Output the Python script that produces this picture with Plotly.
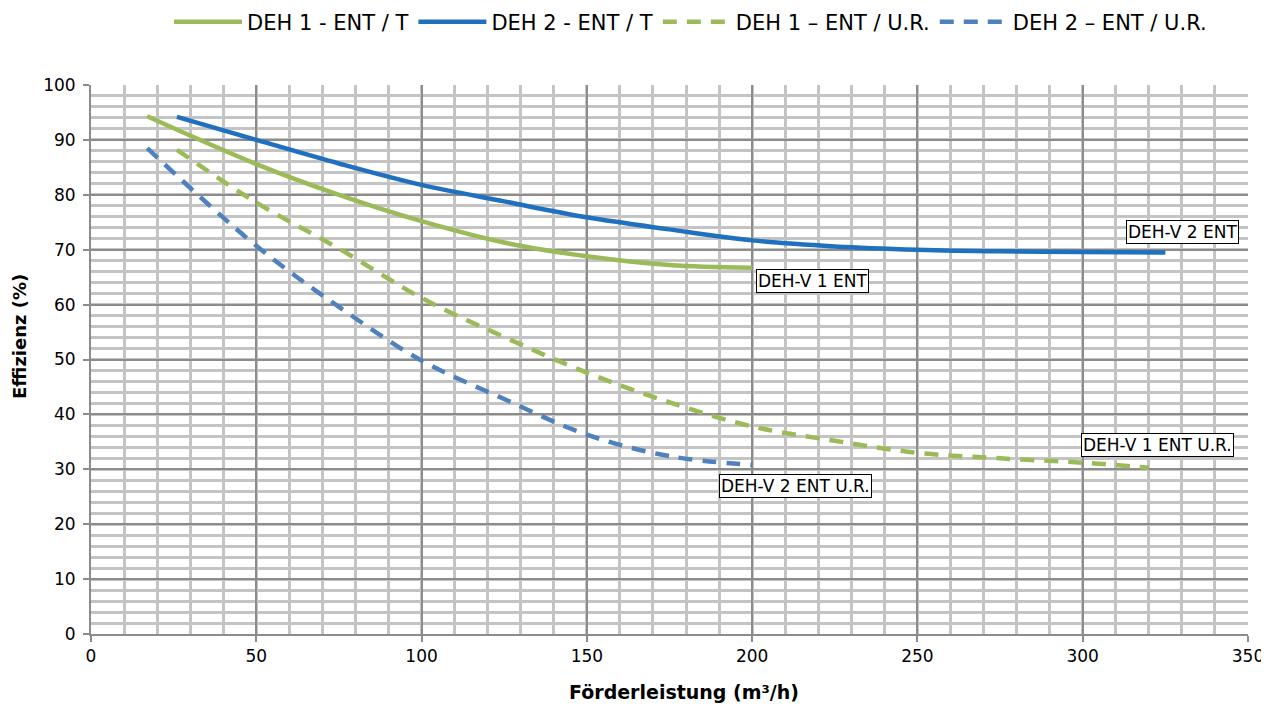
import plotly.graph_objects as go

# DEH 1 - ENT / T (solid green)
x_deh1_t = [17, 50, 75, 100, 125, 150, 175, 200]
y_deh1_t = [94.3, 85.6, 80, 75.2, 71.3, 68.8, 67.2, 66.7]
# DEH 2 - ENT / T (solid blue)
x_deh2_t = [26, 50, 75, 100, 125, 150, 175, 200, 225, 250, 275, 300, 325]
y_deh2_t = [94.2, 90, 85.7, 81.8, 78.8, 75.9, 73.7, 71.7, 70.6, 70.0, 69.7, 69.6, 69.5]
# DEH 1 - ENT / U.R. (dashed green)
x_deh1_ur = [26, 50, 75, 100, 125, 150, 175, 200, 225, 250, 275, 300, 320]
y_deh1_ur = [88.2, 78.6, 70.2, 61.2, 54.1, 47.6, 42.2, 37.8, 35.2, 33, 32, 31.2, 30.3]
# DEH 2 - ENT / U.R. (dashed blue)
x_deh2_ur = [17, 50, 75, 100, 125, 150, 175, 200]
y_deh2_ur = [88.5, 70.7, 59.6, 49.8, 42.8, 36.3, 32.4, 30.8]

x_ticks = [0, 50, 100, 150, 200, 250, 300, 350]
y_ticks = [0, 10, 20, 30, 40, 50, 60, 70, 80, 90, 100]

labels = ["DEH-V 2 ENT", "DEH-V 1 ENT", "DEH-V 1 ENT U.R.", "DEH-V 2 ENT U.R."]
label_x = [330.3, 218.4, 322.7, 213]
label_y = [73.2, 64.3, 34.4, 27.0]

x_title = "<b>Förderleistung (m³/h)</b>"
y_title = "<b>Effizienz (%)</b>"

GREEN = "#9BBB59"
BLUE = "#1F70BF"
BLUE_D = "#4F81BD"
FONT = "DejaVu Sans"

fig = go.Figure()
fig.add_trace(go.Scatter(x=x_deh1_t, y=y_deh1_t, mode="lines", name="DEH 1 - ENT / T",
                         line=dict(color=GREEN, width=4.5, shape="spline")))
fig.add_trace(go.Scatter(x=x_deh2_t, y=y_deh2_t, mode="lines", name="DEH 2 - ENT / T",
                         line=dict(color=BLUE, width=4.5, shape="spline")))
fig.add_trace(go.Scatter(x=x_deh1_ur, y=y_deh1_ur, mode="lines", name="DEH 1 – ENT / U.R.",
                         line=dict(color=GREEN, width=4.5, shape="spline", dash="14px,10px")))
fig.add_trace(go.Scatter(x=x_deh2_ur, y=y_deh2_ur, mode="lines", name="DEH 2 – ENT / U.R.",
                         line=dict(color=BLUE_D, width=4.5, shape="spline", dash="14px,10px")))

for t, ax, ay in zip(labels, label_x, label_y):
    fig.add_annotation(x=ax, y=ay, text=t, showarrow=False, xanchor="center", yanchor="middle",
                       bgcolor="white", bordercolor="black", borderwidth=1, borderpad=1,
                       font=dict(family=FONT, size=17, color="black"))

# axis titles
fig.add_annotation(xref="paper", yref="paper", x=0.5125, y=0, yshift=-58, text=x_title,
                   showarrow=False, xanchor="center", yanchor="middle",
                   font=dict(family=FONT, size=19, color="black"))
fig.add_annotation(xref="paper", yref="paper", x=0, xshift=-71, y=0.541, text=y_title,
                   textangle=-90, showarrow=False, xanchor="center", yanchor="middle",
                   font=dict(family=FONT, size=18, color="black"))

# page body has an 8px default margin, so the figure is sized to fit inside the window
fig.update_layout(
    width=1261, height=701,
    margin=dict(l=83, r=21, t=77, b=75),
    plot_bgcolor="white", paper_bgcolor="white",
    font=dict(family=FONT, size=17, color="black"),
    showlegend=True,
    legend=dict(orientation="h", xref="paper", x=0.0674, xanchor="left",
                yref="container", y=0.980, yanchor="middle",
                font=dict(family=FONT, size=21), itemwidth=68, tracegroupgap=0),
    xaxis=dict(range=[0, 350], tickvals=x_ticks, showgrid=True, gridcolor="#8C8C8C", gridwidth=2,
               minor=dict(dtick=10, showgrid=True, gridcolor="#C4C4C4", gridwidth=2.5),
               showline=True, linecolor="#8C8C8C", linewidth=2, ticks="outside", ticklen=6,
               tickcolor="#8C8C8C", tickwidth=2, zeroline=False, automargin=False),
    yaxis=dict(range=[0, 100], tickvals=y_ticks, showgrid=True, gridcolor="#8C8C8C", gridwidth=2,
               minor=dict(dtick=2, showgrid=True, gridcolor="#C4C4C4", gridwidth=2.5),
               showline=True, linecolor="#8C8C8C", linewidth=2, ticks="outside", ticklen=6,
               tickcolor="#8C8C8C", tickwidth=2, zeroline=False, automargin=False,
               ticklabelstandoff=4),
)

fig.write_html("out.html")
